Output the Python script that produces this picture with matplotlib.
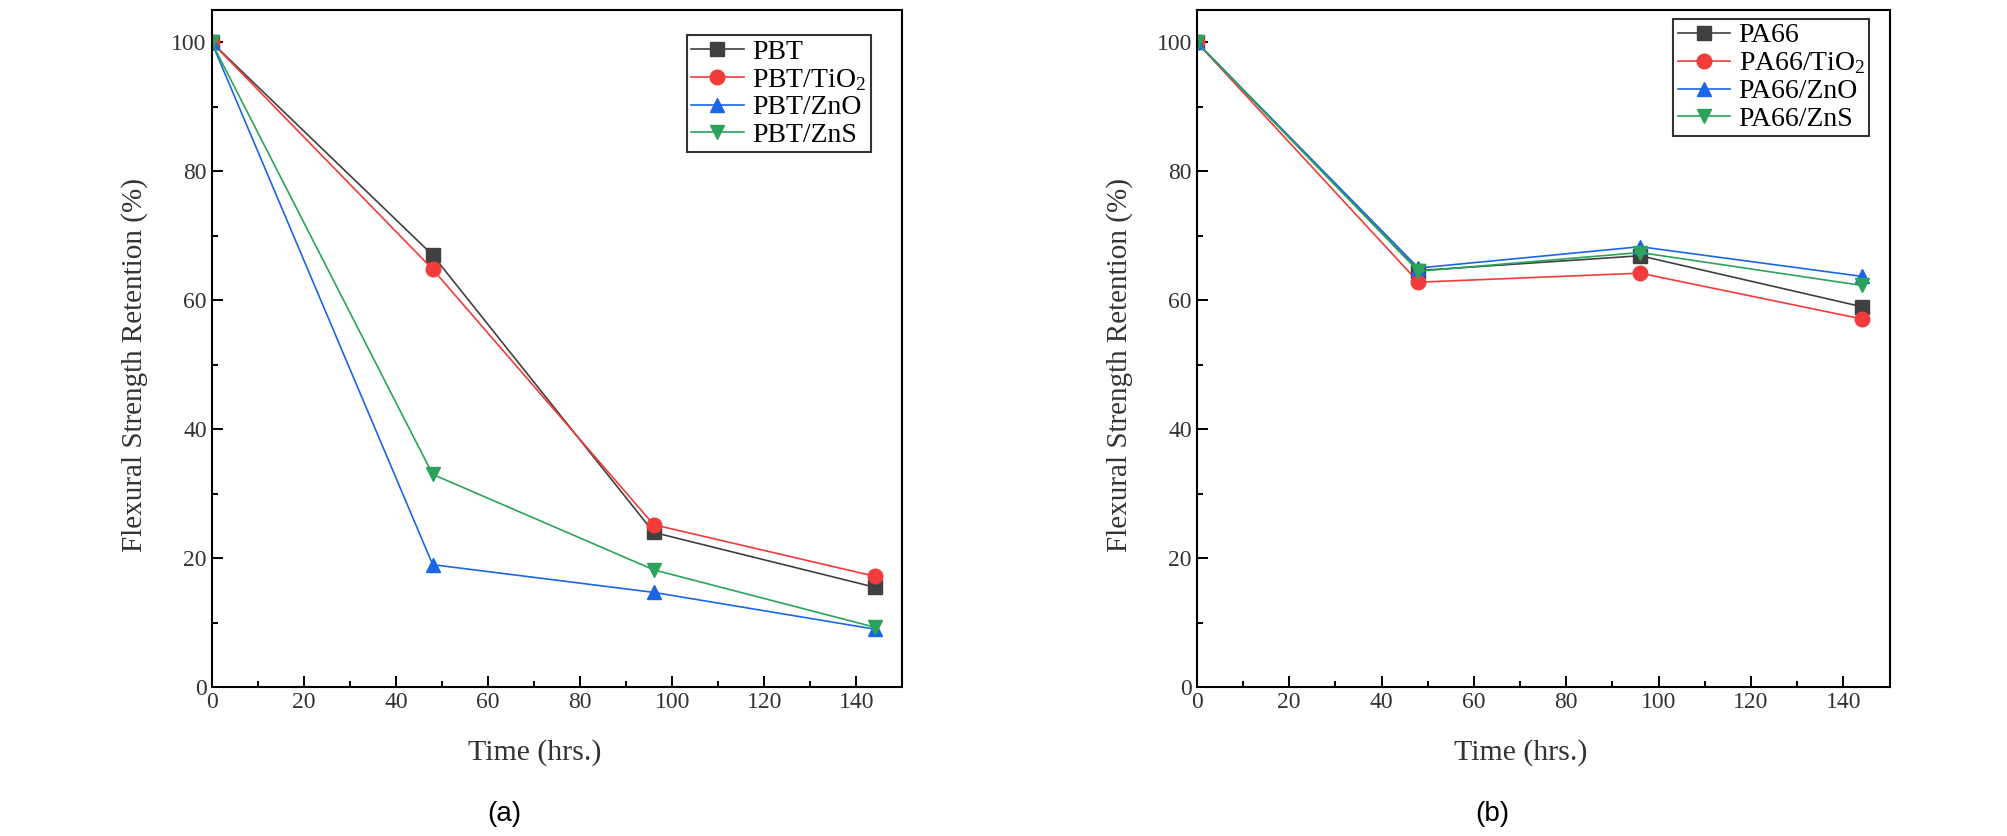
import matplotlib
matplotlib.use("Agg")
import matplotlib.pyplot as plt
from matplotlib.ticker import MultipleLocator

# Time points (hrs.)
hours = [0, 48, 96, 144]

# Panel (a): PBT series
pbt = [100, 67.0, 24.0, 15.5]
pbt_tio2 = [100, 64.8, 25.2, 17.2]
pbt_zno = [100, 19.0, 14.7, 9.0]
pbt_zns = [100, 33.0, 18.2, 9.3]

# Panel (b): PA66 series
pa66 = [100, 64.6, 66.9, 59.0]
pa66_tio2 = [100, 62.8, 64.2, 57.1]
pa66_zno = [100, 65.0, 68.3, 63.7]
pa66_zns = [100, 64.5, 67.4, 62.3]

labels_a = ["PBT", r"PBT/TiO$_2$", "PBT/ZnO", "PBT/ZnS"]
labels_b = ["PA66", r"PA66/TiO$_2$", "PA66/ZnO", "PA66/ZnS"]

colors = ["#404040", "#f23b3b", "#1a66e6", "#2ca35a"]
markers = ["s", "o", "^", "v"]

plt.rcParams["font.family"] = ["Liberation Serif", "DejaVu Serif"]
plt.rcParams["mathtext.fontset"] = "custom"
plt.rcParams["mathtext.rm"] = "Liberation Serif"
plt.rcParams["mathtext.it"] = "Liberation Serif"

TXT = "#333333"


def draw_panel(ax, series, labels, tag, tag_x, leg_anchor):
    for ys, lab, c, m in zip(series, labels, colors, markers):
        ax.plot(hours, ys, color=c, marker=m, markersize=10.5, linewidth=1.2,
                label=lab)
    ax.set_xlim(0, 150)
    ax.set_ylim(0, 105)
    ax.xaxis.set_major_locator(MultipleLocator(20))
    ax.xaxis.set_minor_locator(MultipleLocator(10))
    ax.yaxis.set_major_locator(MultipleLocator(20))
    ax.yaxis.set_minor_locator(MultipleLocator(10))
    ax.tick_params(which="both", direction="in", top=False, right=False,
                   labelsize=17, labelcolor=TXT, width=1.4)
    ax.tick_params(which="major", length=8)
    ax.tick_params(which="minor", length=4.5)
    for sp in ax.spines.values():
        sp.set_linewidth(1.5)
    ax.set_xlabel("Time (hrs.)", fontsize=21.5, color=TXT, labelpad=19)
    ax.set_ylabel("Flexural Strength Retention (%)", fontsize=21, color=TXT,
                  labelpad=17)
    # labels sit a little off-centre in the original
    ax.xaxis.label.set_x(0.468)
    ax.yaxis.label.set_y(0.476)
    leg = ax.legend(loc="upper right", bbox_to_anchor=leg_anchor,
                    fontsize=20, frameon=True, fancybox=False,
                    edgecolor="black", handlelength=1.9, handletextpad=0.3,
                    labelspacing=0.08, borderpad=0.15, borderaxespad=0)
    leg.get_frame().set_linewidth(1.5)
    ax.figure.text(tag_x, 0.011, tag, fontsize=20, family="Liberation Sans",
                   ha="center", va="bottom")


fig = plt.figure(figsize=(20.08, 8.36), dpi=100)
ax1 = fig.add_axes([0.1054, 0.178, 0.344, 0.810])
ax2 = fig.add_axes([0.596, 0.178, 0.345, 0.810])

draw_panel(ax1, [pbt, pbt_tio2, pbt_zno, pbt_zns], labels_a, "(a)", 0.251,
           (0.954, 0.963))
draw_panel(ax2, [pa66, pa66_tio2, pa66_zno, pa66_zns], labels_b, "(b)", 0.743,
           (0.971, 0.987))

fig.savefig("out.png", dpi=100)
